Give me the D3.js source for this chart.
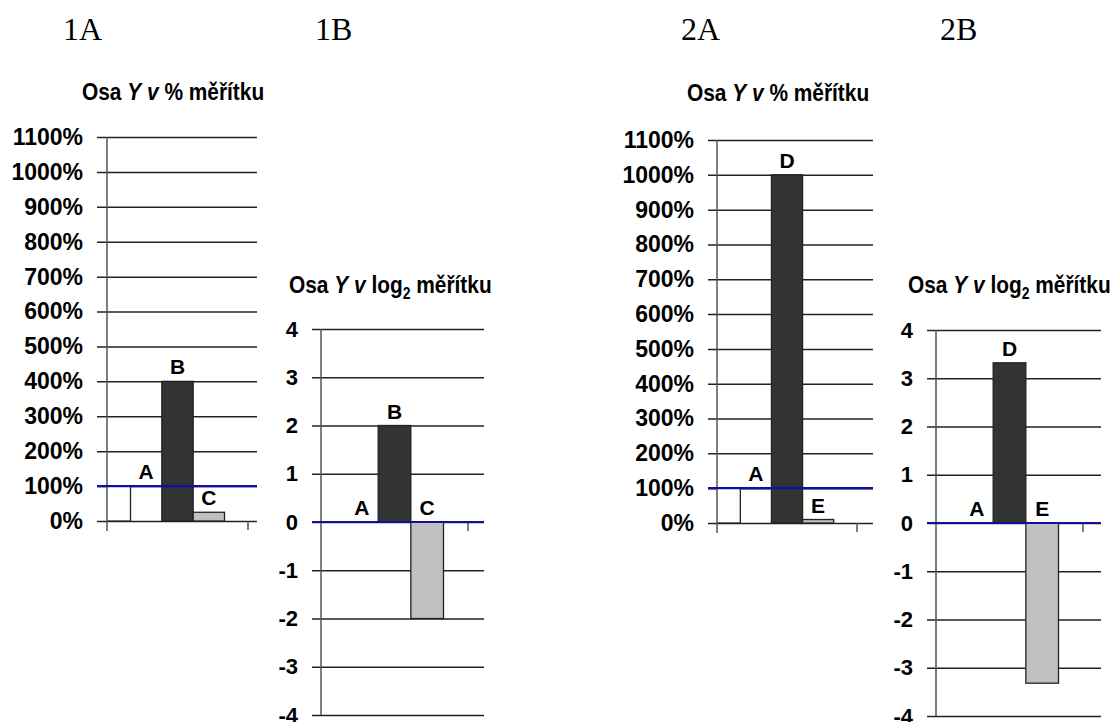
<!DOCTYPE html>
<html>
<head>
<meta charset="utf-8">
<script src="https://cdn.jsdelivr.net/npm/d3@7"></script>
<style>
  body { margin: 0; background: #fff; }
  svg { display: block; }
  text { font-family: "Liberation Sans", Arial, sans-serif; font-weight: bold; }
</style>
</head>
<body>
<svg width="1114" height="722"></svg>
<script>
// data
const headers = ["1A", "1B", "2A", "2B"];
const cats1 = ["A", "B", "C"];
const pct1 = [100, 400, 25];
const log1 = [0, 2, -2];
const cats2 = ["A", "D", "E"];
const pct2 = [100, 1000, 10];
const log2 = [0, 3.32, -3.32];
const pctTicks = [0, 100, 200, 300, 400, 500, 600, 700, 800, 900, 1000, 1100];
const logTicks = [-4, -3, -2, -1, 0, 1, 2, 3, 4];

const fills = ["#ffffff", "#333333", "#c0c0c0"];
const barSlot = [0, 2, 3];    // slot of each bar
const labelSlot = [1, 2, 3];  // slot of each label

var svg = d3.select('svg');

var panels = [
  {head: headers[0], hx: 63, cats: cats1, vals: pct1, ticks: pctTicks, log: false,
   axisX: 107, tickX: 248, gl: 97, gr: 257, y0: 521, y1: 137, tx: 82, ty: 100},
  {head: headers[1], hx: 315, cats: cats1, vals: log1, ticks: logTicks, log: true,
   axisX: 321, tickX: 468, gl: 312, gr: 484, y0: 715, y1: 329, tx: 289, ty: 293},
  {head: headers[2], hx: 681, cats: cats2, vals: pct2, ticks: pctTicks, log: false,
   axisX: 717, tickX: 857, gl: 708, gr: 873, y0: 523, y1: 140, tx: 687, ty: 101},
  {head: headers[3], hx: 940, cats: cats2, vals: log2, ticks: logTicks, log: true,
   axisX: 936, tickX: 1083, gl: 927, gr: 1101, y0: 716, y1: 330, tx: 908, ty: 293}
];

panels.forEach(function(p, k) {
  var g = svg.append('g');

  g.append('text')
    .attr('x', p.hx).attr('y', 40)
    .style('font-family', '"Liberation Serif", "Times New Roman", serif')
    .style('font-weight', 'normal')
    .style('font-size', '32px')
    .text(p.head);

  var y = d3.scaleLinear()
    .domain(d3.extent(p.ticks))
    .range([p.y0, p.y1]);

  // x in units of one bar width, 0 = axis, 4.5 = right tick
  var x = d3.scaleLinear().domain([0, 4.5]).range([p.axisX, p.tickX]);
  var off = -0.25;

  // title (narrow, tall glyphs)
  var t = g.append('text')
    .attr('transform', 'translate(' + p.tx + ',' + p.ty + ') scale(0.87,1)')
    .style('font-size', '24px');
  t.append('tspan').text('Osa ');
  t.append('tspan').style('font-style', 'italic').text('Y');
  t.append('tspan').text(' ');
  t.append('tspan').style('font-style', 'italic').text('v');
  if (p.log) {
    t.append('tspan').text(' log');
    t.append('tspan').attr('dy', 6).style('font-size', '16px').text('2');
    t.append('tspan').attr('dy', -6).text(' měřítku');
  } else {
    t.append('tspan').text(' % měřítku');
  }

  // gridlines + tick labels
  var ax = g.append('g')
    .attr('transform', 'translate(' + p.gl + ',0)')
    .call(d3.axisLeft(y)
      .tickValues(p.ticks)
      .tickSize(-(p.gr - p.gl))
      .tickPadding(14)
      .tickFormat(function(d) { return p.log ? d : d + '%'; }));
  ax.select('.domain').remove();
  ax.selectAll('.tick line').attr('stroke', '#222').attr('stroke-width', 1.5);
  ax.selectAll('.tick text')
    .attr('fill', '#000')
    .style('font-family', '"Liberation Sans", Arial, sans-serif')
    .style('font-weight', 'bold')
    .style('font-size', p.log ? '22px' : '23px');

  // clip bars at the value axis
  svg.append('clipPath').attr('id', 'clip' + k)
    .append('rect')
    .attr('x', p.axisX).attr('y', 0)
    .attr('width', p.gr - p.axisX).attr('height', 722);

  // bars
  var bars = p.vals.map(function(v, i) { return {cat: p.cats[i], v: v, i: i}; });
  g.append('g').attr('clip-path', 'url(#clip' + k + ')')
    .selectAll('.bar')
    .data(bars)
    .enter().append('rect')
    .attr('class', 'bar')
    .attr('x', function(d) { return x(barSlot[d.i] + off); })
    .attr('width', function(d) { return x(barSlot[d.i] + off + 1) - x(barSlot[d.i] + off); })
    .attr('y', function(d) { return y(Math.max(d.v, 0)); })
    .attr('height', function(d) { return Math.abs(y(d.v) - y(0)); })
    .attr('fill', function(d) { return fills[d.i]; })
    .attr('stroke', '#222')
    .attr('stroke-width', 1.3);

  // axis line and ticks
  var yBot = p.log ? y(d3.min(p.ticks)) : y(0) + 10;
  g.append('line')
    .attr('x1', p.axisX).attr('x2', p.axisX)
    .attr('y1', y(d3.max(p.ticks))).attr('y2', yBot)
    .attr('stroke', '#555').attr('stroke-width', 1.5);
  g.append('line')
    .attr('x1', p.tickX).attr('x2', p.tickX)
    .attr('y1', y(0)).attr('y2', y(0) + 9)
    .attr('stroke', '#555').attr('stroke-width', 1.5);

  // blue reference line (100% / 0)
  var ref = p.log ? 0 : 100;
  g.append('line')
    .attr('x1', p.gl).attr('x2', p.gr)
    .attr('y1', y(ref)).attr('y2', y(ref))
    .attr('stroke', '#1010a0').attr('stroke-width', 2.2);

  // bar labels
  g.selectAll('.lbl')
    .data(bars)
    .enter().append('text')
    .attr('class', 'lbl')
    .attr('x', function(d) { return x(labelSlot[d.i] + off + 0.5); })
    .attr('y', function(d) { return y(Math.max(d.v, 0)) - 7; })
    .attr('text-anchor', 'middle')
    .style('font-size', '21px')
    .text(function(d) { return d.cat; });
});
</script>
</body>
</html>
